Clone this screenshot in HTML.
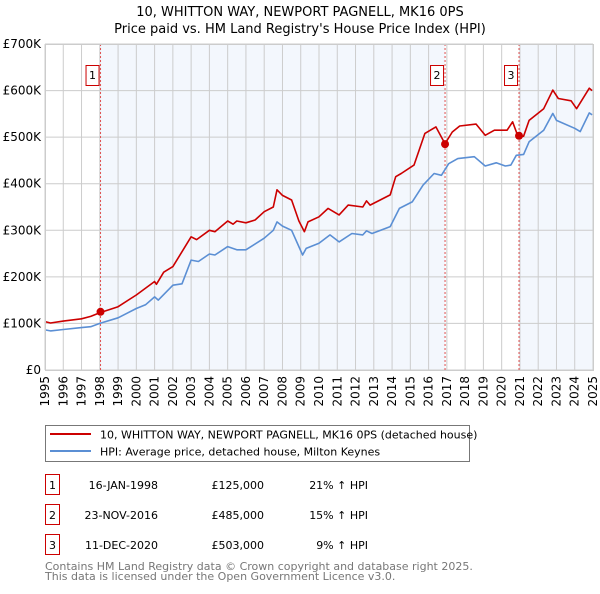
<!DOCTYPE html>
<html><head><meta charset="utf-8"><style>
body{margin:0;background:#fff;font-family:"DejaVu Sans","Liberation Sans",sans-serif}
svg text{font-family:"DejaVu Sans","Liberation Sans",sans-serif}
</style></head><body>
<svg id="c" width="600" height="590" xmlns="http://www.w3.org/2000/svg">
<text x="300" y="16" text-anchor="middle" font-size="13">10, WHITTON WAY, NEWPORT PAGNELL, MK16 0PS</text>
<text x="300" y="33" text-anchor="middle" font-size="13">Price paid vs. HM Land Registry's House Price Index (HPI)</text>
<g id="plot"></g>
<g>
<rect x="45.5" y="425.5" width="424" height="36" fill="#fff" stroke="#777"/>
<line x1="50" y1="434" x2="91" y2="434" stroke="#cc0000" stroke-width="2"/>
<text x="100" y="438.5" font-size="11">10, WHITTON WAY, NEWPORT PAGNELL, MK16 0PS (detached house)</text>
<line x1="50" y1="451" x2="91" y2="451" stroke="#5b8fd4" stroke-width="2"/>
<text x="100" y="455.5" font-size="11">HPI: Average price, detached house, Milton Keynes</text>
</g>
<g id="table" font-size="11"></g>
<text x="45" y="570" font-size="11" fill="#777">Contains HM Land Registry data © Crown copyright and database right 2025.</text>
<text x="45" y="580" font-size="11" fill="#777">This data is licensed under the Open Government Licence v3.0.</text>
</svg>
<script>
const years=[1995,1996,1997,1998,1999,2000,2001,2002,2003,2004,2005,2006,2007,2008,2009,2010,2011,2012,2013,2014,2015,2016,2017,2018,2019,2020,2021,2022,2023,2024,2025];
const yTicks=[0,100000,200000,300000,400000,500000,600000,700000];
const yTickLabels=["£0","£100K","£200K","£300K","£400K","£500K","£600K","£700K"];
const hpiDates=[1995,1995.3,1996,1997,1997.5,1998,1999,2000,2000.5,2001,2001.2,2002,2002.5,2003,2003.4,2004,2004.3,2005,2005.5,2006,2007,2007.5,2007.7,2008,2008.5,2009.1,2009.3,2010,2010.6,2011.1,2011.8,2012.4,2012.6,2012.9,2013.9,2014.4,2015.1,2015.7,2016.3,2016.7,2017.1,2017.6,2018.5,2019.1,2019.7,2020.2,2020.5,2020.8,2021.2,2021.5,2022.3,2022.8,2023.0,2024.0,2024.3,2024.8,2024.95];
const hpiValues=[86,84,87,91,93,100,112,132,140,157,150,182,185,236,233,249,247,265,258,258,283,300,318,309,300,247,261,272,290,275,293,290,299,293,308,347,361,397,422,418,443,454,458,438,445,438,440,461,463,490,515,551,536,519,512,552,548];
const ppDates=[1995,1995.3,1996,1997,1997.5,1998,1999,2000,2001,2001.1,2001.5,2002,2003,2003.3,2004,2004.3,2005,2005.3,2005.5,2006,2006.5,2007,2007.5,2007.7,2008,2008.5,2008.9,2009.2,2009.4,2010,2010.5,2011.1,2011.6,2012.4,2012.6,2012.8,2013.9,2014.2,2014.5,2015.2,2015.8,2016.4,2016.9,2017.3,2017.7,2018.6,2019.1,2019.6,2020.3,2020.6,2020.9,2021.2,2021.5,2022.3,2022.8,2023.1,2023.8,2024.1,2024.8,2024.95];
const ppValues=[104,101,105,110,115,123,136,161,190,184,210,222,286,280,300,297,320,313,320,316,322,340,350,387,375,365,320,297,318,329,347,333,354,350,363,354,376,415,422,440,508,522,486,511,524,528,504,515,515,533,501,502,536,561,601,583,578,561,605,600];
const saleDates=[1998.04,2016.9,2020.95];
const saleValues=[125000,485000,503000];
const saleLabels=["1","2","3"];
const saleDateText=["16-JAN-1998","23-NOV-2016","11-DEC-2020"];
const salePriceText=["£125,000","£485,000","£503,000"];
const salePctText=["21% ↑ HPI","15% ↑ HPI","9% ↑ HPI"];

const NS="http://www.w3.org/2000/svg";
const X0=45,X1=593,Y0=370,Y1=44;
const xs=t=>X0+(t-1995)/(2025-1995)*(X1-X0);
const ys=v=>Y0-v/700000*(Y0-Y1);
function mk(tag,attrs,parent,text){const e=document.createElementNS(NS,tag);for(const k in attrs)e.setAttribute(k,attrs[k]);if(text!==undefined)e.textContent=text;parent.appendChild(e);return e;}
const plot=document.getElementById('plot');
let r;
r=mk('rect',{x:xs(saleDates[0]),y:Y1,width:xs(saleDates[1])-xs(saleDates[0]),height:Y0-Y1,fill:'#eef3fc',opacity:0.7},plot);


r=mk('rect',{x:xs(saleDates[2]),y:Y1,width:X1-xs(saleDates[2]),height:Y0-Y1,fill:'#eef3fc',opacity:0.7},plot);


years.forEach(y=>{
 const l=mk('line',{x1:xs(y),x2:xs(y),y1:Y1,y2:Y0,stroke:'#ccc','stroke-width':1},plot);
 
 
 const t=mk('text',{x:0,y:0,'font-size':12,'text-anchor':'end',transform:`translate(${xs(y)+4},${Y0+6}) rotate(-90)`},plot,String(y));
 
 
});
yTicks.forEach((v,i)=>{
 const l=mk('line',{x1:X0,x2:X1,y1:ys(v),y2:ys(v),stroke:'#ccc','stroke-width':1},plot);
 
 
 const t=mk('text',{x:X0-4,y:ys(v)+4,'font-size':12,'text-anchor':'end'},plot,yTickLabels[i]);
 
 
});
saleDates.forEach((d,i)=>{
 const l=mk('line',{x1:xs(d),x2:xs(d),y1:Y1,y2:Y0,stroke:'#e05050','stroke-width':1,'stroke-dasharray':'2,2'},plot);
 
 
 const b=mk('rect',{x:xs(d)-14.5,y:65.5,width:13,height:20,fill:'#fff',stroke:'#cc0000'},plot);
 
 
 const t=mk('text',{x:xs(d)-8,y:79,'font-size':11,'text-anchor':'middle'},plot,saleLabels[i]);
 
 
});
function path(dates,vals,color,name){
 const d=dates.map((t,i)=>(i?'L':'M')+xs(t).toFixed(1)+','+ys(vals[i]*1000).toFixed(1)).join(' ');
 const p=mk('path',{d:d,fill:'none',stroke:color,'stroke-width':1.6,'stroke-linejoin':'round'},plot);
 
 
}
path(hpiDates,hpiValues,'#5b8fd4','hpi-line');
path(ppDates,ppValues,'#cc0000','price-paid-line');
saleDates.forEach((d,i)=>{
 const c=mk('circle',{cx:xs(d),cy:ys(saleValues[i]),r:4,fill:'#cc0000'},plot);
 
 
});
const frame=mk('rect',{x:X0+0.5,y:Y1+0.5,width:X1-X0,height:Y0-Y1,fill:'none',stroke:'#ccc'},plot);


const tb=document.getElementById('table');
saleLabels.forEach((lab,i)=>{
 const y=485+i*30;
 const b=mk('rect',{x:45.5,y:y-10.5,width:14,height:20,fill:'#fff',stroke:'#cc0000'},tb);
 
 
 let t=mk('text',{x:52.5,y:y+4,'text-anchor':'middle'},tb,lab);
 
 
 t=mk('text',{x:158,y:y+4,'text-anchor':'end'},tb,saleDateText[i]);
 
 
 t=mk('text',{x:264,y:y+4,'text-anchor':'end'},tb,salePriceText[i]);
 
 
 t=mk('text',{x:368,y:y+4,'text-anchor':'end'},tb,salePctText[i]);
 
 
});
</script>
</body></html>
